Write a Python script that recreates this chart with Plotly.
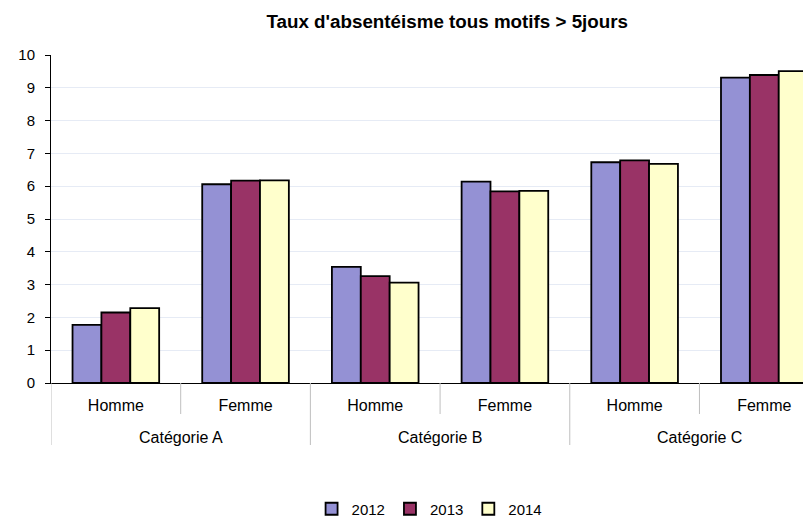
import plotly.graph_objects as go

categories_outer = ["Catégorie A", "Catégorie A", "Catégorie B", "Catégorie B", "Catégorie C", "Catégorie C"]
categories_inner = ["Homme", "Femme", "Homme", "Femme", "Homme", "Femme"]
years = ["2012", "2013", "2014"]
values_2012 = [1.77, 6.06, 3.54, 6.14, 6.73, 9.31]
values_2013 = [2.15, 6.17, 3.26, 5.84, 6.79, 9.39]
values_2014 = [2.28, 6.18, 3.06, 5.86, 6.68, 9.51]
colors = ["#9491D4", "#993366", "#FFFFCC"]
y_ticks = list(range(0, 11))

# unique category keys for the x axis, labelled with the inner level
keys = [f"{o} | {i}" for o, i in zip(categories_outer, categories_inner)]

fig = go.Figure()
for name, vals, col in zip(years, [values_2012, values_2013, values_2014], colors):
    fig.add_trace(go.Bar(
        x=keys, y=vals, name=name,
        marker=dict(color=col, line=dict(color="black", width=1.8)),
    ))

# outer-level labels and dividers
outer_groups = []
for idx, o in enumerate(categories_outer):
    if not outer_groups or outer_groups[-1][0] != o:
        outer_groups.append([o, idx, idx])
    else:
        outer_groups[-1][2] = idx

div_color = "#BFBFBF"
for o, start, end in outer_groups:
    fig.add_annotation(text=o, x=(start + end) / 2, xref="x", y=0, yref="paper",
                       yshift=-54, yanchor="middle", showarrow=False,
                       font=dict(size=16))
    fig.add_shape(type="line", xref="x", x0=start - 0.5, x1=start - 0.5,
                  yref="paper", ysizemode="pixel", yanchor=0, y0=0, y1=-62,
                  line=dict(color=div_color, width=1))
    for b in range(start, end):
        fig.add_shape(type="line", xref="x", x0=b + 0.5, x1=b + 0.5,
                      yref="paper", ysizemode="pixel", yanchor=0, y0=0, y1=-31,
                      line=dict(color=div_color, width=1))

fig.update_layout(
    width=803, height=510,
    margin=dict(l=43, r=0, t=47, b=135),
    paper_bgcolor="white", plot_bgcolor="white",
    font=dict(family="Liberation Sans, Arial, sans-serif", size=15, color="black"),
    title=dict(text="<b>Taux d'absentéisme tous motifs > 5jours</b>",
               font=dict(size=18.8), xref="container", x=0.547, xanchor="center",
               yref="container", y=0.9745, yanchor="middle"),
    barmode="group", bargap=0.332, bargroupgap=0,
    legend=dict(orientation="h", xref="container", x=0.525, xanchor="center",
                yref="container", y=0.0176, yanchor="middle",
                itemwidth=30, font=dict(size=15), traceorder="normal"),
    xaxis=dict(type="category", categoryarray=keys, range=[-0.5, 5.36],
               tickvals=keys, ticktext=categories_inner, tickfont=dict(size=16),
               ticklabelstandoff=8,
               showline=True, linecolor="black", linewidth=1,
               ticks="", showgrid=False),
    yaxis=dict(range=[0, 10], tickvals=y_ticks, showline=True, linecolor="black", linewidth=1,
               ticks="outside", ticklen=5, tickcolor="black", ticklabelstandoff=7,
               gridcolor="#E6EBF5", zeroline=False),
)

fig.write_html("out.html")
